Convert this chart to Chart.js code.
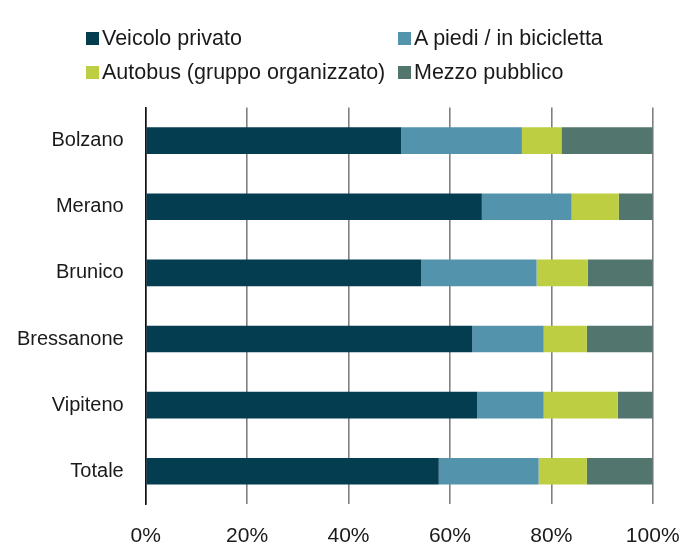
<!DOCTYPE html>
<html>
<head>
<meta charset="utf-8">
<script src="https://cdn.jsdelivr.net/npm/chart.js@4.4.1/dist/chart.umd.min.js"></script>
<style>
  html, body { margin: 0; padding: 0; background: #fff; }
  #wrap { position: relative; width: 683px; height: 546px; }
  #c { position: absolute; left: 0; top: 0; }
  .lg { position: absolute; height: 26px; display: flex; align-items: center;
        font-family: "Liberation Sans", Arial, sans-serif; font-size: 21.5px; color: #1a1a1a; white-space: nowrap; }
  .lg span.box { display: inline-block; width: 13px; height: 13px; margin-right: 3px; }
</style>
</head>
<body>
<div id="wrap">
  <canvas id="c" width="683" height="546"></canvas>
  <div id="legend"></div>
</div>
<script>
const categories = ['Bolzano', 'Merano', 'Brunico', 'Bressanone', 'Vipiteno', 'Totale'];
const seriesNames = ['Veicolo privato', 'A piedi / in bicicletta', 'Autobus (gruppo organizzato)', 'Mezzo pubblico'];
const veicoloPrivato = [50.4, 66.3, 54.3, 64.4, 65.4, 57.8];
const aPiedi = [23.8, 17.7, 22.8, 14.1, 13.1, 19.7];
const autobus = [7.8, 9.3, 10.1, 8.5, 14.6, 9.5];
const mezzoPubblico = [18.0, 6.7, 12.8, 13.0, 6.9, 13.0];
const xTicks = [0, 20, 40, 60, 80, 100];
const colors = ['#043c50', '#5393ac', '#bdce43', '#52756d'];

const seriesValues = [veicoloPrivato, aPiedi, autobus, mezzoPubblico];

// HTML legend (two columns)
const legendPos = [[86, 38], [398, 38], [86, 72], [398, 72]];
const legend = document.getElementById('legend');
seriesNames.forEach((name, i) => {
  const d = document.createElement('div');
  d.className = 'lg';
  d.style.left = legendPos[i][0] + 'px';
  d.style.top = (legendPos[i][1] - 13) + 'px';
  d.innerHTML = '<span class="box" style="background:' + colors[i] + '"></span>';
  d.appendChild(document.createTextNode(name));
  legend.appendChild(d);
});

new Chart(document.getElementById('c'), {
  type: 'bar',
  data: {
    labels: categories,
    datasets: seriesNames.map((n, i) => ({
      label: n,
      data: seriesValues[i],
      backgroundColor: colors[i],
      borderWidth: 0,
      barPercentage: 0.403,
      categoryPercentage: 1.0
    }))
  },
  options: {
    indexAxis: 'y',
    responsive: false,
    animation: false,
    layout: { padding: { top: 107.6, right: 30.3, bottom: 0, left: 0 } },
    plugins: { legend: { display: false }, tooltip: { enabled: false } },
    scales: {
      x: {
        stacked: true,
        min: 0, max: 100,
        afterBuildTicks: (s) => { s.ticks = xTicks.map(v => ({ value: v })); },
        afterFit: (s) => { s.height = 546 - 504.3; s.paddingLeft = 0; s.paddingRight = 0; },
        grid: { color: '#808080', lineWidth: 1.6, drawTicks: false },
        border: { display: false },
        ticks: {
          padding: 19,
          color: '#1a1a1a',
          font: { family: '"Liberation Sans", Arial, sans-serif', size: 21 },
          callback: (v) => v + '%',
          maxRotation: 0
        }
      },
      y: {
        stacked: true,
        afterFit: (s) => { s.width = 145.7; },
        grid: { display: false, drawTicks: false },
        border: { display: true, color: '#111', width: 1.6 },
        ticks: {
          padding: 22,
          color: '#1a1a1a',
          font: { family: '"Liberation Sans", Arial, sans-serif', size: 20 }
        }
      }
    }
  }
});
</script>
</body>
</html>
